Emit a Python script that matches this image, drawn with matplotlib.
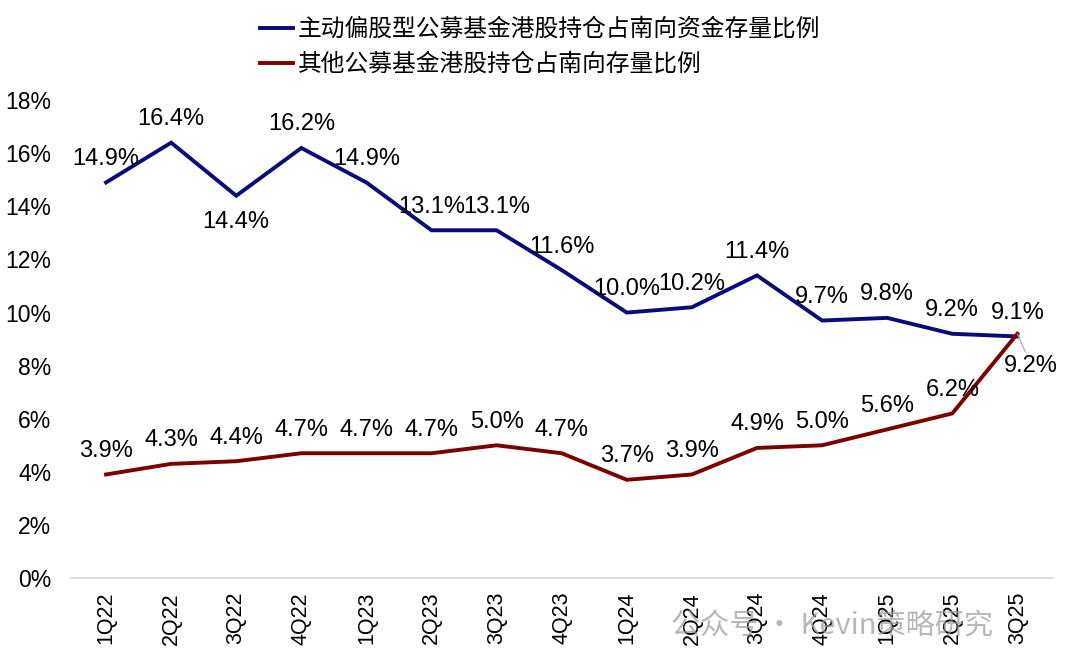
import matplotlib
matplotlib.use("Agg")
import matplotlib.pyplot as plt
from matplotlib.ticker import FuncFormatter

categories = ["1Q22", "2Q22", "3Q22", "4Q22", "1Q23", "2Q23", "3Q23", "4Q23",
              "1Q24", "2Q24", "3Q24", "4Q24", "1Q25", "2Q25", "3Q25"]
active_equity = [14.9, 16.4, 14.4, 16.2, 14.9, 13.1, 13.1, 11.6, 10.0, 10.2, 11.4, 9.7, 9.8, 9.2, 9.1]
other_funds = [3.9, 4.3, 4.4, 4.7, 4.7, 4.7, 5.0, 4.7, 3.7, 3.9, 4.9, 5.0, 5.6, 6.2, 9.2]
series_names = ["主动偏股型公募基金港股持仓占南向资金存量比例", "其他公募基金港股持仓占南向存量比例"]
yticks = [0, 2, 4, 6, 8, 10, 12, 14, 16, 18]

plt.rcParams['font.family'] = ['Liberation Sans', 'Noto Sans CJK SC', 'DejaVu Sans']

fig = plt.figure(figsize=(10.74, 6.68), dpi=100)
ax = fig.add_axes([0.066, 0.1347, 0.914, 0.7153])

x = list(range(len(categories)))
blue = "#0A0A78"
red = "#7B0000"
l1, = ax.plot(x, active_equity, color=blue, lw=2.8, label=series_names[0], solid_joinstyle='miter')
l2, = ax.plot(x, other_funds, color=red, lw=2.8, label=series_names[1], solid_joinstyle='miter')

ax.set_xlim(-0.54, len(categories) - 0.46)
ax.set_ylim(0, 18)
ax.set_yticks(yticks)
ax.yaxis.set_major_formatter(FuncFormatter(lambda v, p: f"{v:.0f}%"))
ax.set_xticks(x)
ax.set_xticklabels(categories, rotation=90, fontsize=15.5)
ax.tick_params(axis='y', labelsize=16.5, length=0, pad=14)
ax.tick_params(axis='x', length=0, pad=10)
for s in ["top", "right", "left"]:
    ax.spines[s].set_visible(False)
ax.spines["bottom"].set_color("#D9D9D9")
ax.spines["bottom"].set_linewidth(1.2)

fs = 17
for i, v in enumerate(active_equity):
    if i == 2:
        ax.annotate(f"{v:.1f}%", (i, v), xytext=(0, -11), textcoords="offset points",
                    ha="center", va="top", fontsize=fs)
    else:
        ax.annotate(f"{v:.1f}%", (i, v), xytext=(0, 9), textcoords="offset points",
                    ha="center", va="bottom", fontsize=fs)
for i, v in enumerate(other_funds):
    if i == len(other_funds) - 1:
        ax.annotate(f"{v:.1f}%", (i, v), xytext=(10, -15), textcoords="offset points",
                    ha="center", va="top", fontsize=fs,
                    arrowprops=dict(arrowstyle="-", color="#A6A6A6", lw=0.8, shrinkA=0, shrinkB=0))
    else:
        ax.annotate(f"{v:.1f}%", (i, v), xytext=(0, 9), textcoords="offset points",
                    ha="center", va="bottom", fontsize=fs)

leg = fig.legend(handles=[l1, l2], loc="upper left", bbox_to_anchor=(0.222, 1.005),
                 frameon=False, handlelength=1.4, handletextpad=0.2,
                 labelspacing=0.5, prop={'family': ['Noto Sans CJK SC'], 'size': 17.1})

fig.text(0.625, 0.062, "公众号 · Kevin策略研究", fontsize=21, color="#9A9A9A", alpha=0.7,
         family=['Noto Sans CJK SC'], ha="left", va="center")

fig.savefig("out.png", dpi=100)
